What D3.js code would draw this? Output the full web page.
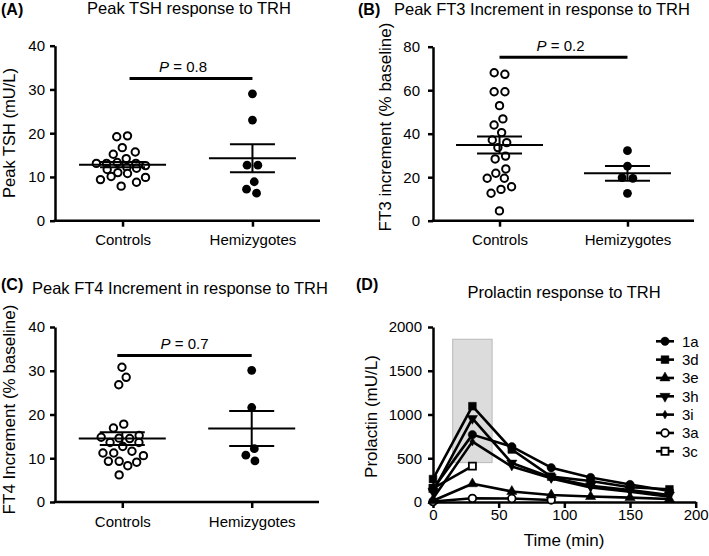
<!DOCTYPE html>
<html><head><meta charset="utf-8">
<script src="https://cdn.jsdelivr.net/npm/d3@7"></script>
<style>
body{margin:0;background:#fff}
svg{display:block}
text{font-family:"Liberation Sans",Arial,Helvetica,sans-serif;fill:#000}
</style>
</head><body>
<svg id="c" width="709" height="556"></svg>
<script>
// ---------- data ----------
const groups = ["Controls", "Hemizygotes"];

const tshControls = [19.2,19.4,16.7,15.7,15.2,14.2,13.3,13.1,13.1,13.1,12.2,12.6,11.7,12.0,10.8,11.0,10.1,9.9,9.4,8.8,7.9];
const tshHemizygotes = [29.0,23.0,12.7,12.7,8.9,6.3,7.2];
const tshMean = [12.8, 14.3];
const tshSem = [0.6, 3.2];
const tshTicks = [0,10,20,30,40];
const tshBracket = 32.5, tshP = "0.8";

const ft3Controls = [68.0,67.3,59.3,59.3,52.9,46.8,44.0,40.5,37.1,35.9,33.6,29.7,28.4,23.8,21.8,19.5,19.5,14.4,12.6,15.6,4.5];
const ft3Hemizygotes = [32.2,25.1,19.8,19.5,12.6];
const ft3Mean = [34.8, 21.8];
const ft3Sem = [3.95, 3.4];
const ft3Ticks = [0,20,40,60,80];
const ft3Bracket = 75.1, ft3P = "0.2";

const ft4Controls = [30.8,28.5,26.8,17.8,16.9,15.2,14.6,14.5,14.8,13.6,13.6,12.7,11.2,11.6,11.2,10.6,9.3,9.1,9.3,8.3,6.2];
const ft4Hemizygotes = [30.1,21.6,12.2,9.4,10.7];
const ft4Mean = [14.5, 16.8];
const ft4Sem = [1.45, 4.0];
const ft4Ticks = [0,10,20,30,40];
const ft4Bracket = 33.5, ft4P = "0.7";

const prlTimes = [0,30,60,90,120,150,180];
const prl1a = [150,770,632,392,280,200,125];
const prl3d = [262,1095,600,290,240,168,145];
const prl3e = [15,208,120,80,62,50,35];
const prl3h = [120,955,445,280,185,137,80];
const prl3i = [40,690,405,270,165,118,60];
const prl3a = [5,42,40,23];
const prl3c = [156,410];
const prlSeriesNames = ["1a","3d","3e","3h","3i","3a","3c"];
const prlTicksY = [0,500,1000,1500,2000];
const prlTicksX = [0,50,100,150,200];
const trhWindowTime = [15,45];
const trhWindowLevel = [450,1860];

// ---------- drawing ----------
const svg = d3.select("#c");
const AX = 2.5;

function styleAxis(g, fs){
  g.select(".domain").attr("stroke","#000").attr("stroke-width",AX);
  g.selectAll(".tick line").attr("stroke","#000").attr("stroke-width",AX);
  g.selectAll(".tick text").attr("font-size",fs).attr("fill","#000")
    .attr("font-family",'"Liberation Sans",Arial,sans-serif');
}

function beeswarm(vals, cx, y, r){
  const nodes = vals.map(v => ({v, x: cx, y: y(v), ty: y(v)}));
  nodes.forEach((n,i)=>{ n.x = cx + (i%2 ? 1 : -1) * (i*0.3); });
  const sim = d3.forceSimulation(nodes)
    .force("x", d3.forceX(cx).strength(0.06))
    .force("y", d3.forceY(d => d.ty).strength(1))
    .force("c", d3.forceCollide(r).iterations(4))
    .stop();
  for (let i=0;i<400;i++) sim.tick();
  nodes.forEach(n => n.y = n.ty);
  return nodes;
}

function scatterPanel(c){
  const y = d3.scaleLinear().domain([c.ticks[0], c.ticks[c.ticks.length-1]]).range([c.yBottom, c.yTop]);
  const x = d3.scalePoint().domain(groups).range([c.xLeft, c.xRight]).padding(0.52);
  const g = svg.append("g");

  const ya = g.append("g").attr("transform",`translate(${c.xLeft},0)`)
    .call(d3.axisLeft(y).tickValues(c.ticks).tickFormat(d3.format("d")).tickSize(5).tickSizeOuter(0).tickPadding(c.yPad));
  styleAxis(ya, 15);
  const xa = g.append("g").attr("transform",`translate(0,${c.yBottom})`)
    .call(d3.axisBottom(x).tickSize(6).tickSizeOuter(0).tickPadding(c.xPad));
  styleAxis(xa, 15);
  xa.select(".domain").attr("d",`M${c.xLeft-1.25},0H${c.xRight}`);

  const ctrl = beeswarm(c.controls, x(groups[0]), y, 5.4);
  const hemi = beeswarm(c.hemi, x(groups[1]), y, 5.4);
  g.selectAll(".ctrl").data(ctrl).join("circle").attr("class","ctrl")
    .attr("cx",d=>d.x).attr("cy",d=>d.y).attr("r",3.7)
    .attr("fill","#fff").attr("stroke","#000").attr("stroke-width",2);
  g.selectAll(".hemi").data(hemi).join("circle").attr("class","hemi")
    .attr("cx",d=>d.x).attr("cy",d=>d.y).attr("r",4.4).attr("fill","#000");

  groups.forEach((gr,i)=>{
    const cx = x(gr), m = c.mean[i], s = c.sem[i];
    g.append("line").attr("x1",cx-43.5).attr("x2",cx+43.5).attr("y1",y(m)).attr("y2",y(m))
      .attr("stroke","#000").attr("stroke-width",2);
    [m+s, m-s].forEach(v=>{
      g.append("line").attr("x1",cx-22.5).attr("x2",cx+22.5).attr("y1",y(v)).attr("y2",y(v))
        .attr("stroke","#000").attr("stroke-width",2);
    });
    g.append("line").attr("x1",cx).attr("x2",cx).attr("y1",y(m+s)).attr("y2",y(m-s))
      .attr("stroke","#000").attr("stroke-width",2);
  });

  const bx1 = x(groups[0]) + c.bOff, bx2 = x(groups[1]);
  g.append("line").attr("x1",bx1).attr("x2",bx2).attr("y1",y(c.bracket)).attr("y2",y(c.bracket))
    .attr("stroke","#000").attr("stroke-width",3);
  const pt = g.append("text").attr("x",(bx1+bx2)/2 + c.pOff).attr("y",y(c.bracket)-6.5)
    .attr("text-anchor","middle").attr("font-size",15);
  pt.append("tspan").attr("font-style","italic").text("P");
  pt.append("tspan").text(" = " + c.p);

  g.append("text").attr("transform",`translate(${c.labX},${c.labY}) rotate(-90)`)
    .attr("text-anchor","middle").attr("font-size",c.labFs).text(c.label);
  g.append("text").attr("x",c.letterX).attr("y",c.letterY).attr("font-size",16).attr("font-weight","bold").text(c.letter);
  g.append("text").attr("x",c.titleX).attr("y",c.titleY).attr("text-anchor",c.titleAnchor)
    .attr("font-size",16.5).text(c.title);
}

scatterPanel({xLeft:55, xRight:320, yTop:45.7, yBottom:220.7, ticks:tshTicks,
  controls:tshControls, hemi:tshHemizygotes, mean:tshMean, sem:tshSem,
  bracket:tshBracket, p:tshP, bOff:7, pOff:-8, yPad:5, xPad:8,
  label:"Peak TSH (mU/L)", labX:15, labY:133, labFs:16.5,
  letter:"(A)", letterX:1, letterY:15, title:"Peak TSH response to TRH", titleX:189, titleY:14, titleAnchor:"middle"});

scatterPanel({xLeft:433, xRight:694, yTop:46.7, yBottom:220.7, ticks:ft3Ticks,
  controls:ft3Controls, hemi:ft3Hemizygotes, mean:ft3Mean, sem:ft3Sem,
  bracket:ft3Bracket, p:ft3P, bOff:0, pOff:-3, yPad:8, xPad:8,
  label:"FT3 increment (% baseline)", labX:391, labY:127, labFs:17,
  letter:"(B)", letterX:358, letterY:15, title:"Peak FT3 Increment in response to TRH", titleX:394, titleY:15, titleAnchor:"start"});

scatterPanel({xLeft:55, xRight:319, yTop:327, yBottom:502, ticks:ft4Ticks,
  controls:ft4Controls, hemi:ft4Hemizygotes, mean:ft4Mean, sem:ft4Sem,
  bracket:ft4Bracket, p:ft4P, bOff:-5, pOff:0, yPad:5, xPad:8,
  label:"FT4 Increment (% baseline)", labX:15, labY:409.5, labFs:17,
  letter:"(C)", letterX:1, letterY:290, title:"Peak FT4 Increment in response to TRH", titleX:32, titleY:294, titleAnchor:"start"});

// ---------- panel D ----------
(function(){
  const x = d3.scaleLinear().domain([0,200]).range([433,695.7]);
  const y = d3.scaleLinear().domain([0,2000]).range([502,327]);
  const g = svg.append("g");

  g.append("rect").attr("x",x(trhWindowTime[0])).attr("width",x(trhWindowTime[1])-x(trhWindowTime[0]))
    .attr("y",y(trhWindowLevel[1])).attr("height",y(trhWindowLevel[0])-y(trhWindowLevel[1]))
    .attr("fill","#dcdcdc").attr("stroke","#b8b8b8").attr("stroke-width",1);

  const ya = g.append("g").attr("transform","translate(433,0)")
    .call(d3.axisLeft(y).tickValues(prlTicksY).tickFormat(d3.format("d")).tickSize(5).tickSizeOuter(0).tickPadding(6));
  styleAxis(ya, 15);
  const xa = g.append("g").attr("transform","translate(0,502)")
    .call(d3.axisBottom(x).tickValues(prlTicksX).tickFormat(d3.format("d")).tickSize(6).tickSizeOuter(0).tickPadding(1));
  styleAxis(xa, 15);

  const seriesVals = [prl1a, prl3d, prl3e, prl3h, prl3i, prl3a, prl3c];
  const sym = {
    "1a": {type:d3.symbolCircle, size:55, fill:"#000", rot:0},
    "3d": {type:d3.symbolSquare, size:60, fill:"#000", rot:0},
    "3e": {type:d3.symbolTriangle, size:45, fill:"#000", rot:0},
    "3h": {type:d3.symbolTriangle, size:45, fill:"#000", rot:180},
    "3i": {type:d3.symbolDiamond, size:22, fill:"#000", rot:0},
    "3a": {type:d3.symbolCircle, size:45, fill:"#fff", rot:0},
    "3c": {type:d3.symbolSquare, size:50, fill:"#fff", rot:0}
  };
  const series = prlSeriesNames.map((n,i)=>({name:n, pts: seriesVals[i].map((v,j)=>({t:prlTimes[j], v}))}));
  const line = d3.line().x(d=>x(d.t)).y(d=>y(d.v));
  const order = [5,2,6,4,3,0,1];
  order.forEach(i=>{
    const s = series[i];
    g.append("path").attr("d",line(s.pts)).attr("fill","none").attr("stroke","#000").attr("stroke-width",2.6)
      .attr("stroke-linejoin","round");
  });
  order.forEach(i=>{
    const s = series[i], sp = sym[s.name];
    g.selectAll(null).data(s.pts).join("path")
      .attr("d", d3.symbol().type(sp.type).size(sp.size)())
      .attr("transform", d=>`translate(${x(d.t)},${y(d.v)}) rotate(${sp.rot})`)
      .attr("fill", sp.fill).attr("stroke","#000").attr("stroke-width", sp.fill==="#fff"?1.8:0.5);
  });

  series.forEach((s,i)=>{
    const ly = 341.3 + i*18.33, sp = sym[s.name];
    g.append("line").attr("x1",656).attr("x2",674).attr("y1",ly).attr("y2",ly).attr("stroke","#000").attr("stroke-width",2.6);
    g.append("path").attr("d", d3.symbol().type(sp.type).size(sp.size)())
      .attr("transform",`translate(665,${ly}) rotate(${sp.rot})`)
      .attr("fill",sp.fill).attr("stroke","#000").attr("stroke-width", sp.fill==="#fff"?1.8:0.5);
    g.append("text").attr("x",682).attr("y",ly+5.3).attr("font-size",15).text(s.name);
  });

  g.append("text").attr("transform","translate(377,416.5) rotate(-90)").attr("text-anchor","middle")
    .attr("font-size",17).text("Prolactin (mU/L)");
  g.append("text").attr("x",564).attr("y",546).attr("text-anchor","middle").attr("font-size",17).text("Time (min)");
  g.append("text").attr("x",356).attr("y",290).attr("font-size",16).attr("font-weight","bold").text("(D)");
  g.append("text").attr("x",564).attr("y",298).attr("text-anchor","middle").attr("font-size",16.5).text("Prolactin response to TRH");
})();
</script>
</body></html>
